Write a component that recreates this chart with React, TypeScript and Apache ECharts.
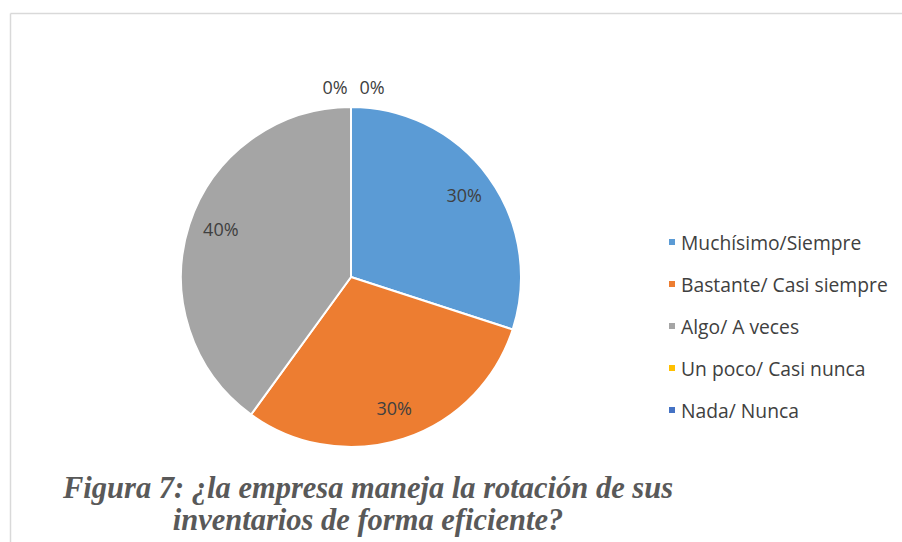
import React, { useEffect, useRef } from "react";
import * as echarts from "echarts";

const categories = [
  "Muchísimo/Siempre",
  "Bastante/ Casi siempre",
  "Algo/ A veces",
  "Un poco/ Casi nunca",
  "Nada/ Nunca",
];
const values = [30, 30, 40, 0, 0];
const colors = ["#5b9bd5", "#ed7d31", "#a5a5a5", "#ffc000", "#4472c4"];
const titleLines = [
  "Figura 7: ¿la empresa maneja la rotación de sus",
  "inventarios de forma eficiente?",
];

export default function App() {
  const ref = useRef<HTMLDivElement>(null);
  useEffect(() => {
    if (!ref.current) return;
    const chart = echarts.init(ref.current, undefined, { renderer: "svg" });
    const data = categories.map((name, i) => ({
      name,
      value: values[i],
      itemStyle: { color: colors[i] },
    }));
    const fontFamily = "'Open Sans', sans-serif";
    chart.setOption({
      animation: false,
      backgroundColor: "#ffffff",
      title: {
        text: titleLines.join("\n"),
        left: 363,
        top: 467,
        textAlign: "center",
        textStyle: {
          fontFamily: "'Liberation Serif', serif",
          fontStyle: "italic",
          fontWeight: "bold",
          fontSize: 30.5,
          lineHeight: 32,
          color: "#595959",
        },
      },
      legend: {
        orient: "vertical",
        left: 662,
        top: 226,
        icon: "rect",
        itemWidth: 8,
        itemHeight: 8,
        itemGap: 20,
        data: categories,
        textStyle: {
          fontFamily,
          fontSize: 19.3,
          color: "#404040",
          lineHeight: 22,
        },
      },
      graphic: [
        {
          type: "line",
          shape: { x1: 10.5, y1: 13.5, x2: 902, y2: 13.5 },
          style: { stroke: "#d9d9d9", lineWidth: 1.5 },
        },
        {
          type: "line",
          shape: { x1: 10.5, y1: 13.5, x2: 10.5, y2: 542 },
          style: { stroke: "#d9d9d9", lineWidth: 1.5 },
        },
      ],
      series: [
        {
          type: "pie",
          center: [351, 277],
          radius: [0, 170],
          startAngle: 90,
          clockwise: true,
          avoidLabelOverlap: false,
          label: { show: false },
          labelLine: { show: false },
          itemStyle: { borderColor: "#ffffff", borderWidth: 2 },
          emphasis: { disabled: true },
          data,
        },
        {
          type: "pie",
          center: [351, 277],
          radius: [104, 170],
          startAngle: 90,
          clockwise: true,
          silent: true,
          avoidLabelOverlap: false,
          itemStyle: { color: "rgba(0,0,0,0)" },
          labelLine: { show: false },
          label: {
            show: true,
            position: "inside",
            formatter: "{d}%",
            fontFamily,
            fontSize: 18,
            color: "#404040",
          },
          labelLayout: (params: any) => {
            if (params.dataIndex === 1) return { dx: 0, dy: -2 };
            if (params.dataIndex === 2) return { dx: 3, dy: -5 };
            if (params.dataIndex === 3) return { dx: -16, dy: -50 };
            if (params.dataIndex === 4) return { dx: 21, dy: -50 };
            return {};
          },
          emphasis: { disabled: true },
          data: categories.map((name, i) => ({ name, value: values[i] })),
        },
      ],
    });
    return () => chart.dispose();
  }, []);
  return (
    <div
      ref={ref}
      style={{ position: "fixed", left: 0, top: 0, width: 902, height: 542 }}
    />
  );
}
